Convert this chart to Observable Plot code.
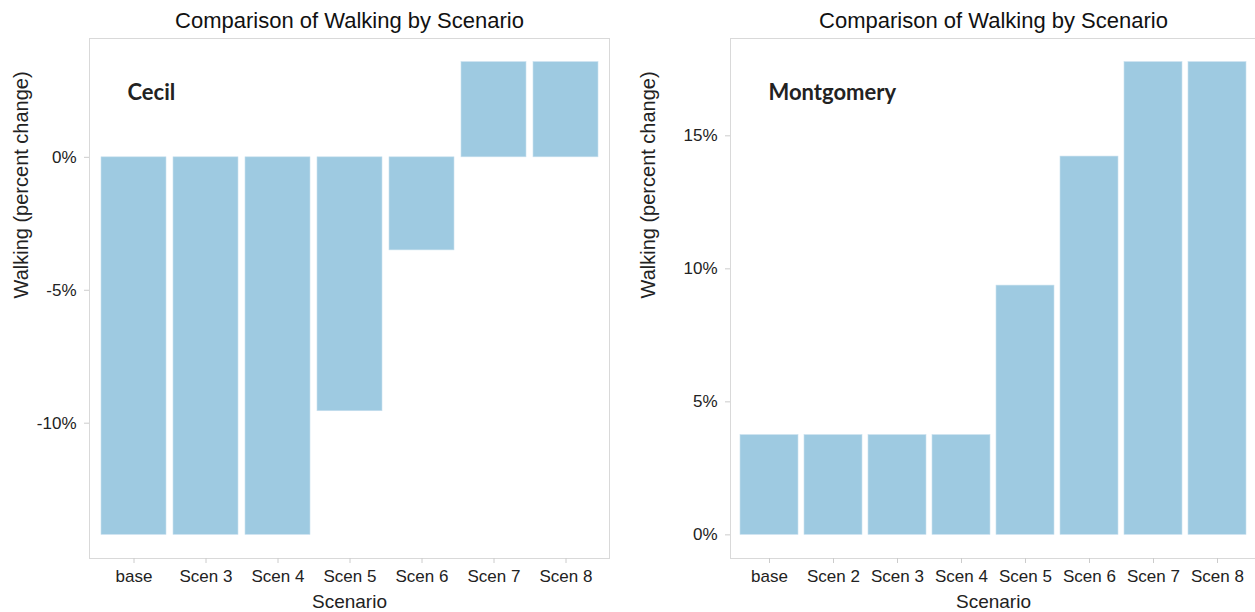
<!DOCTYPE html>
<html>
<head>
<meta charset="utf-8">
<script src="https://cdn.jsdelivr.net/npm/d3@7"></script>
<script src="https://cdn.jsdelivr.net/npm/@observablehq/plot@0.6"></script>
<style>
  html, body { margin: 0; padding: 0; background: #fff; overflow: hidden; width: 1255px; height: 612px; }
  #wrap { position: relative; width: 1255px; height: 612px; }
  #wrap > div, #wrap > svg { position: absolute; top: 0; }
  #wrap svg text { font-family: "Liberation Sans", Arial, sans-serif; }
  #wrap svg text.panel-name, #wrap svg .panel-name text { font-family: Lato, "Open Sans", sans-serif; }
</style>
</head>
<body>
<div id="wrap"></div>
<script>
const chartTitle = "Comparison of Walking by Scenario";
const xTitle = "Scenario";
const yTitle = "Walking (percent change)";

const cecilScenarios = ["base", "Scen 3", "Scen 4", "Scen 5", "Scen 6", "Scen 7", "Scen 8"];
const cecilValues = [-14.2, -14.2, -14.2, -9.55, -3.5, 3.58, 3.58];
const cecilTicks = [-10, -5, 0];

const montScenarios = ["base", "Scen 2", "Scen 3", "Scen 4", "Scen 5", "Scen 6", "Scen 7", "Scen 8"];
const montValues = [3.75, 3.75, 3.75, 3.75, 9.37, 14.22, 17.77, 17.77];
const montTicks = [0, 5, 10, 15];

const barColor = "#9ecae1";
const font = "Liberation Sans";

function panel({name, scenarios, values, ticks, width, marginLeft, marginRight}) {
  const data = scenarios.map((s, i) => ({scenario: s, value: values[i]}));
  const lo = Math.min(0, d3.min(values));
  const hi = Math.max(0, d3.max(values));
  const pad = (hi - lo) * 0.05;
  return Plot.plot({
    width,
    height: 612,
    marginLeft,
    marginRight,
    marginTop: 38,
    marginBottom: 54,
    style: {fontFamily: font, fontSize: "17px", color: "#222", background: "transparent", overflow: "visible"},
    x: {type: "band", domain: scenarios, paddingInner: 0.1, paddingOuter: 0.15, label: null},
    y: {domain: [lo - pad, hi + pad], label: null},
    marks: [
      Plot.frame({stroke: "#d9d9d9", strokeWidth: 1}),
      Plot.barY(data, {x: "scenario", y: "value", fill: barColor, stroke: "#c8e0ee", strokeWidth: 0.6}),
      Plot.axisX({tickSize: 5, tickPadding: 6, stroke: "#cccccc", fill: "#222", fontSize: 17, fontFamily: font, label: null}),
      Plot.axisY({ticks, tickSize: 5, tickPadding: 8, tickFormat: d => `${d}%`, stroke: "#cccccc", fill: "#222", fontSize: 17, fontFamily: font, label: null}),
      Plot.text([chartTitle], {frameAnchor: "top", dy: -18, fontSize: 22, fontFamily: font, fill: "#111", lineAnchor: "middle"}),
      Plot.text([xTitle], {frameAnchor: "bottom", dy: 43, fontSize: 19, fontFamily: font, fill: "#222", lineAnchor: "middle"}),
      Plot.text([yTitle], {frameAnchor: "left", dx: -(marginLeft - 21), rotate: -90, fontSize: 20, fontFamily: font, fill: "#222", lineAnchor: "middle"}),
      Plot.text([name], {frameAnchor: "top-left", dx: 38, dy: 54, textAnchor: "start", lineAnchor: "middle", fontSize: 22, fontWeight: "bold", fontFamily: "Lato", fill: "#222", className: "panel-name"})
    ]
  });
}

const wrap = document.getElementById("wrap");
const left = panel({name: "Cecil", scenarios: cecilScenarios, values: cecilValues, ticks: cecilTicks, width: 627, marginLeft: 89, marginRight: 18});
left.style.left = "0px";
wrap.appendChild(left);
const right = panel({name: "Montgomery", scenarios: montScenarios, values: montValues, ticks: montTicks, width: 632, marginLeft: 103, marginRight: 3});
right.style.left = "627px";
wrap.appendChild(right);
</script>
</body>
</html>
